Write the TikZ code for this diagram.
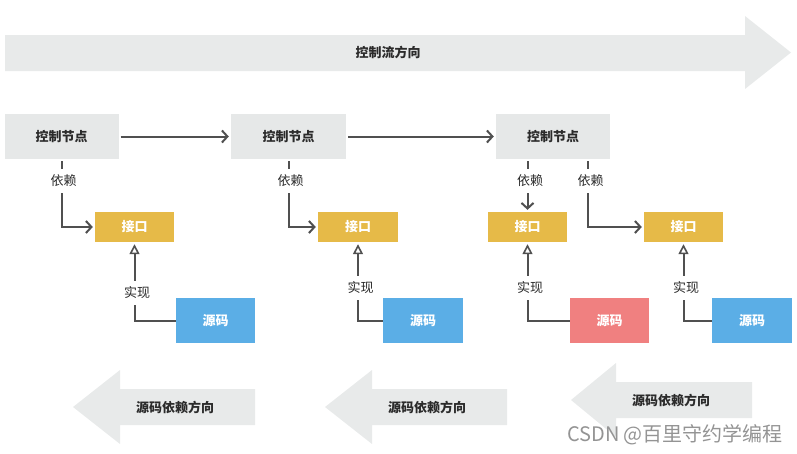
\documentclass[tikz,border=0pt]{standalone}
\usepackage{fontspec}
\setmainfont{Noto Sans CJK SC}
\usetikzlibrary{arrows.meta,calc}
\definecolor{biggray}{HTML}{E8EAEA}
\definecolor{boxgray}{HTML}{E6E8E8}
\definecolor{gold}{HTML}{E6BA48}
\definecolor{srcblue}{HTML}{5BAEE6}
\definecolor{srcred}{HTML}{F08080}
\definecolor{linegray}{HTML}{505050}
\definecolor{txt}{HTML}{2B2B2B}
\tikzset{
  ctrlbox/.style={fill=boxgray,minimum width=114pt,minimum height=45pt,inner sep=0pt,font=\fontsize{13}{13}\selectfont\bfseries,text=txt},
  ifacebox/.style={fill=gold,minimum width=79pt,minimum height=30pt,inner sep=0pt,font=\fontsize{13}{13}\selectfont\bfseries,text=white},
  srcbox/.style={fill=srcblue,minimum width=79pt,minimum height=45pt,inner sep=0pt,font=\fontsize{13}{13}\selectfont\bfseries,text=white},
  bigarrow/.style={fill=biggray,draw=none},
  arrowtext/.style={font=\fontsize{13}{13}\selectfont\bfseries,text=txt,inner sep=0pt},
  lbl/.style={fill=white,font=\fontsize{13}{13}\selectfont,text=txt,inner sep=0pt,minimum height=24pt,minimum width=30pt},
  dep/.style={draw=linegray,line width=2pt,-{Straight Barb[length=5.5pt,width=12pt,line width=2pt]},shorten <=2pt,shorten >=2pt},
  impl/.style={draw=linegray,line width=2pt,-{Triangle[open,length=10pt,width=10pt,line width=1.6pt,fill=white]},shorten >=2pt},
  flow/.style={draw=linegray,line width=2pt,-{Straight Barb[length=5.5pt,width=12pt,line width=2pt]},shorten <=2pt,shorten >=2pt}
}
\begin{document}
\begin{tikzpicture}[x=1pt,y=-1pt]
\useasboundingbox (0,0) rectangle (797,453);
% big arrows
\fill[bigarrow] (5,35) -- (745,35) -- (745,16) -- (791,52.5) -- (745,89) -- (745,71) -- (5,71) -- cycle;
\node[arrowtext] (flowtxt) at (388,52.5) {控制流方向};
\fill[bigarrow] (73,407) -- (120,370) -- (120,389) -- (255,389) -- (255,425) -- (120,425) -- (120,444) -- cycle;
\node[arrowtext] (deptxt1) at (175,407) {源码依赖方向};
\fill[bigarrow] (325,407) -- (372,370) -- (372,389) -- (507,389) -- (507,425) -- (372,425) -- (372,444) -- cycle;
\node[arrowtext] (deptxt2) at (427,407) {源码依赖方向};
\fill[bigarrow] (571,400) -- (616,363) -- (616,382) -- (752,382) -- (752,418) -- (616,418) -- (616,437) -- cycle;
\node[arrowtext] (deptxt3) at (671,400) {源码依赖方向};
% control nodes
\node[ctrlbox] (c1) at (61.5,136.5) {控制节点};
\node[ctrlbox,minimum width=115pt] (c2) at (288.5,136.5) {控制节点};
\node[ctrlbox] (c3) at (553,136.5) {控制节点};
% interfaces
\node[ifacebox] (i1) at (134.5,227) {接口};
\node[ifacebox,minimum width=80pt] (i2) at (358,227) {接口};
\node[ifacebox] (i3) at (527.5,227) {接口};
\node[ifacebox] (i4) at (683.5,227) {接口};
% sources
\node[srcbox] (s1) at (215.5,320.5) {源码};
\node[srcbox,minimum width=80pt] (s2) at (423,320.5) {源码};
\node[srcbox,fill=srcred] (s3) at (609.5,320.5) {源码};
\node[srcbox,minimum width=80pt] (s4) at (752,320.5) {源码};
% control flow
\draw[flow] (c1) -- (c2);
\draw[flow] (c2) -- (c3);
% dependencies
\coordinate (d4top) at ($(c3.south)+(35,0)$);
\draw[dep] (c1.south) |- (i1.west);
\draw[dep] (c2.south) |- (i2.west);
\draw[dep] (c3.south -| i3.north) -- (i3.north);
\draw[dep] (d4top) |- (i4.west);
\node[lbl] (l1) at (63.5,181) {依赖};
\node[lbl] (l2) at (290.5,181) {依赖};
\node[lbl] (l3) at (530,181) {依赖};
\node[lbl] (l4) at (590.5,181) {依赖};
% implementations
\draw[impl] (s1.west) -| (i1.south);
\draw[impl] (s2.west) -| (i2.south);
\draw[impl] (s3.west) -| (i3.south);
\draw[impl] (s4.west) -| (i4.south);
\node[lbl] (r1) at (137,293) {实现};
\node[lbl] (r2) at (360.5,287.5) {实现};
\node[lbl] (r3) at (530,288) {实现};
\node[lbl] (r4) at (686,288) {实现};
% watermark
\node[font=\fontsize{20}{20}\selectfont,text=black!42,inner sep=0pt] (wm) at (675,435) {CSDN @百里守约学编程};
\end{tikzpicture}
\end{document}
